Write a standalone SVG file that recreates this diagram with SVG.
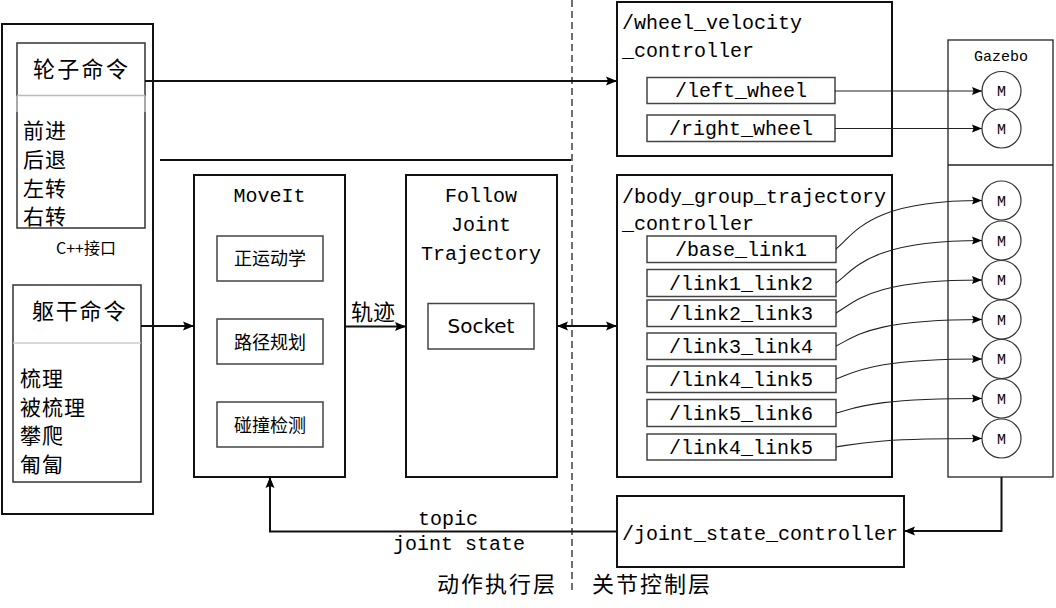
<svg xmlns="http://www.w3.org/2000/svg" width="1056" height="608" viewBox="0 0 1056 608">
<style>
.bx{fill:#fff;stroke:#111;stroke-width:2}
.ib{fill:#fff;stroke:#444;stroke-width:1.5}
.gz{fill:#fff;stroke:#222;stroke-width:1.3}
.ci{fill:#fff;stroke:#333;stroke-width:1.2}
.mono{font-family:"Liberation Mono","DejaVu Sans Mono",monospace;font-size:20px;fill:#000}
.cjk{font-family:"Noto Sans CJK SC","Noto Sans",sans-serif;fill:#000}
.li{font-size:21px;letter-spacing:1px}
.thick{fill:none;stroke:#111;stroke-width:2}
.thin{fill:none;stroke:#222;stroke-width:1.1}
</style>
<defs>
<marker id="ah" markerUnits="userSpaceOnUse" markerWidth="12" markerHeight="10" refX="11" refY="5" orient="auto-start-reverse">
<path d="M0,0.5 L11,5 L0,9.5 L2,5 z" fill="#000"/>
</marker>
<marker id="as" markerUnits="userSpaceOnUse" markerWidth="11" markerHeight="9" refX="10" refY="4.5" orient="auto">
<path d="M0,0.5 L10,4.5 L0,8.5 L1.5,4.5 z" fill="#000"/>
</marker>
</defs>

<g id="cpp-interface">
<rect class="bx" x="2" y="24" width="151" height="490"/>
<text class="cjk" x="56" y="254" font-size="16">C++接口</text>
</g>

<g id="wheel-commands">
<rect x="17" y="43" width="128" height="185" fill="#fff" stroke="#333" stroke-width="1.5"/>
<line x1="17" y1="95.5" x2="145" y2="95.5" stroke="#bbb" stroke-width="1.5"/>
<line x1="17" y1="96" x2="17" y2="112" stroke="#bbb" stroke-width="1.6"/>
<line x1="145" y1="96" x2="145" y2="112" stroke="#bbb" stroke-width="1.6"/>
<text class="cjk" x="33" y="77" font-size="22" letter-spacing="2.3">轮子命令</text>
<text class="cjk li" x="23" y="138">前进</text>
<text class="cjk li" x="23" y="166.5">后退</text>
<text class="cjk li" x="23" y="195.5">左转</text>
<text class="cjk li" x="23" y="224">右转</text>
</g>

<g id="torso-commands">
<rect x="13" y="285" width="128" height="197" fill="#fff" stroke="#333" stroke-width="1.5"/>
<line x1="13" y1="343" x2="141" y2="343" stroke="#ccc" stroke-width="1.5"/>
<text class="cjk" x="32" y="319" font-size="22" letter-spacing="1.8">躯干命令</text>
<text class="cjk li" x="20" y="386">梳理</text>
<text class="cjk li" x="20" y="414.5">被梳理</text>
<text class="cjk li" x="20" y="443">攀爬</text>
<text class="cjk li" x="20" y="472">匍匐</text>
</g>

<g id="moveit">
<rect class="bx" x="194" y="175" width="151" height="302"/>
<text class="mono" x="269.5" y="201.5" text-anchor="middle">MoveIt</text>
<rect class="ib" x="217" y="236" width="106" height="45"/>
<text class="cjk" x="270" y="265" font-size="18" text-anchor="middle">正运动学</text>
<rect class="ib" x="217" y="319" width="106" height="45"/>
<text class="cjk" x="270" y="348.5" font-size="18" text-anchor="middle">路径规划</text>
<rect class="ib" x="217" y="402" width="106" height="45"/>
<text class="cjk" x="270" y="431.5" font-size="18" text-anchor="middle">碰撞检测</text>
</g>

<g id="follow-joint-trajectory">
<rect class="bx" x="406" y="175" width="151" height="302"/>
<text class="mono" x="481" y="201.5" text-anchor="middle">Follow</text>
<text class="mono" x="481" y="230.5" text-anchor="middle">Joint</text>
<text class="mono" x="481" y="259.5" text-anchor="middle">Trajectory</text>
<rect class="ib" x="428" y="303.5" width="106" height="45.5"/>
<text x="481" y="332.5" text-anchor="middle" font-family="DejaVu Sans,sans-serif" font-size="20" fill="#000">Socket</text>
</g>

<g id="wheel-velocity-controller">
<rect class="bx" x="617" y="2" width="275" height="154"/>
<text class="mono" x="622" y="29">/wheel_velocity</text>
<text class="mono" x="622" y="57">_controller</text>
<rect class="ib" x="647" y="77.5" width="188" height="26"/>
<text class="mono" x="741" y="97" text-anchor="middle">/left_wheel</text>
<rect class="ib" x="647" y="115" width="188" height="26.5"/>
<text class="mono" x="741" y="135" text-anchor="middle">/right_wheel</text>
</g>

<g id="body-group-trajectory-controller">
<rect class="bx" x="617" y="175" width="275" height="302"/>
<text class="mono" x="622" y="202.5">/body_group_trajectory</text>
<text class="mono" x="622" y="230">_controller</text>
<rect class="ib" x="647" y="236" width="189" height="26.5"/>
<text class="mono" x="741" y="256" text-anchor="middle">/base_link1</text>
<rect class="ib" x="647" y="269.5" width="189" height="27"/>
<text class="mono" x="741" y="289.5" text-anchor="middle">/link1_link2</text>
<rect class="ib" x="647" y="300" width="189" height="26.5"/>
<text class="mono" x="741" y="319.5" text-anchor="middle">/link2_link3</text>
<rect class="ib" x="647" y="333" width="189" height="26.5"/>
<text class="mono" x="741" y="353" text-anchor="middle">/link3_link4</text>
<rect class="ib" x="647" y="366" width="189" height="26.5"/>
<text class="mono" x="741" y="386" text-anchor="middle">/link4_link5</text>
<rect class="ib" x="647" y="399.5" width="189" height="27"/>
<text class="mono" x="741" y="419.5" text-anchor="middle">/link5_link6</text>
<rect class="ib" x="647" y="434" width="189" height="26"/>
<text class="mono" x="741" y="453.5" text-anchor="middle">/link4_link5</text>
</g>

<g id="joint-state-controller">
<rect class="bx" x="617" y="496" width="287" height="71"/>
<text class="mono" x="622" y="540">/joint_state_controller</text>
</g>

<g id="gazebo">
<rect class="gz" x="948" y="40" width="105" height="437"/>
<line x1="948" y1="165" x2="1053" y2="165" stroke="#222" stroke-width="1.5"/>
<text x="1001" y="61" text-anchor="middle" font-family="Liberation Mono,monospace" font-size="15" fill="#000">Gazebo</text>
<g font-family="Liberation Mono,monospace" font-size="15" fill="#000" text-anchor="middle">
<circle class="ci" cx="1001.5" cy="91" r="19.5"/><text x="1001.5" y="96">M</text>
<circle class="ci" cx="1001.5" cy="128.5" r="19.5"/><text x="1001.5" y="133.5">M</text>
<circle class="ci" cx="1001.5" cy="200.5" r="19.5"/><text x="1001.5" y="205.5">M</text>
<circle class="ci" cx="1001.5" cy="240.5" r="19.5"/><text x="1001.5" y="245.5">M</text>
<circle class="ci" cx="1001.5" cy="280" r="19.5"/><text x="1001.5" y="285">M</text>
<circle class="ci" cx="1001.5" cy="319.5" r="19.5"/><text x="1001.5" y="324.5">M</text>
<circle class="ci" cx="1001.5" cy="359" r="19.5"/><text x="1001.5" y="364">M</text>
<circle class="ci" cx="1001.5" cy="398.5" r="19.5"/><text x="1001.5" y="403.5">M</text>
<circle class="ci" cx="1001.5" cy="438.5" r="19.5"/><text x="1001.5" y="443.5">M</text>
</g>
</g>

<g id="connectors">
<line x1="572" y1="0" x2="572" y2="594" stroke="#111" stroke-width="1.2" stroke-dasharray="7,4"/>
<line class="thick" x1="145" y1="81" x2="617" y2="81" marker-end="url(#ah)"/>
<line class="thick" x1="160" y1="160" x2="571" y2="160"/>
<line class="thick" x1="141" y1="326" x2="194" y2="326" marker-end="url(#ah)"/>
<line class="thick" x1="345" y1="326.5" x2="406" y2="326.5" marker-end="url(#ah)"/>
<text class="cjk" x="351" y="320" font-size="22">轨迹</text>
<line class="thick" x1="557" y1="326" x2="617" y2="326" marker-start="url(#ah)" marker-end="url(#ah)"/>
<path class="thick" d="M617,531.5 H270 V477" marker-end="url(#ah)"/>
<text class="mono" x="418" y="525">topic</text>
<text class="mono" x="393" y="549.5">joint state</text>
<path class="thick" d="M1001.5,477 V531 H904" marker-end="url(#ah)"/>
<line class="thin" x1="835" y1="91" x2="982" y2="91" marker-end="url(#as)"/>
<line class="thin" x1="835" y1="128.5" x2="982" y2="128.5" marker-end="url(#as)"/>
<path class="thin" d="M836,249 C856,232 870,200.5 982,200.5" marker-end="url(#as)"/>
<path class="thin" d="M836,283 C856,268 870,240.5 982,240.5" marker-end="url(#as)"/>
<path class="thin" d="M836,313 C856,301.5 870,280 982,280" marker-end="url(#as)"/>
<path class="thin" d="M836,346 C856,336.5 870,319.5 982,319.5" marker-end="url(#as)"/>
<path class="thin" d="M836,379 C856,372 870,359 982,359" marker-end="url(#as)"/>
<path class="thin" d="M836,413 C856,408 870,398.5 982,398.5" marker-end="url(#as)"/>
<path class="thin" d="M836,447 C856,444 870,438.5 982,438.5" marker-end="url(#as)"/>
</g>

<g id="layer-labels">
<text class="cjk" x="437" y="591.5" font-size="22" letter-spacing="2">动作执行层</text>
<text class="cjk" x="592" y="591.5" font-size="22" letter-spacing="2">关节控制层</text>
</g>
</svg>
